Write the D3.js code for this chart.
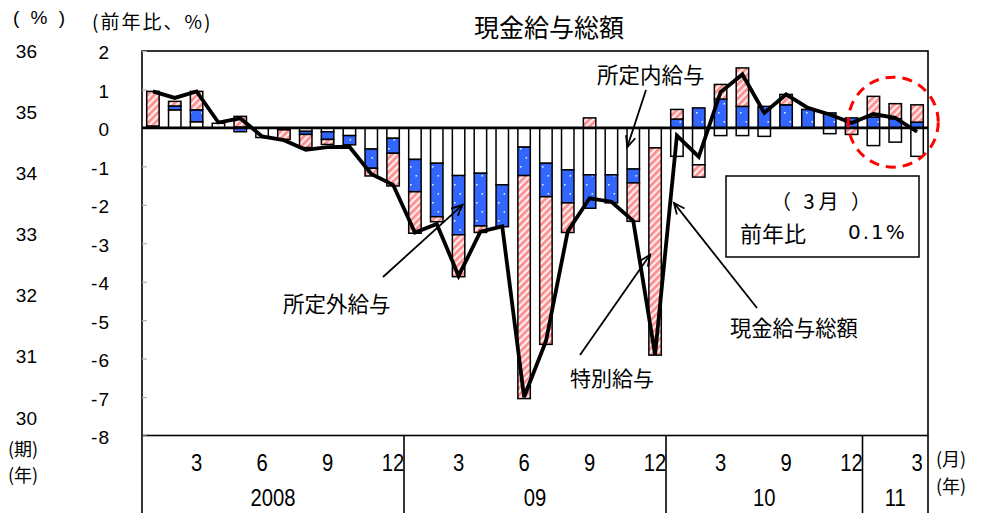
<!DOCTYPE html>
<html>
<head>
<meta charset="utf-8">
<script src="https://cdn.jsdelivr.net/npm/d3@7"></script>
<style>
  body { margin: 0; background: #fff; }
  text { fill: #000; }
</style>
</head>
<body>
<svg id="chart" width="994" height="513"></svg>
<script>
// ---- data (前年比, %) ----
// monthly bars: Jan 2008 .. Mar 2011 (2010 shown with 9 periods)
const periods = d3.range(36);
const scheduled = [0.05, 0.47, 0.16, 0.12, 0.02, -0.25, -0.05, -0.09, -0.10, -0.20, -0.55, -0.27,
                   -0.82, -0.92, -1.24, -1.18, -1.48, -0.50, -0.92, -1.09, -1.22, -1.22, -1.07, -0.52,
                   -0.74, -0.96, -0.20, -0.20, -0.22, 0.00, 0.00, -0.15, 0.00,
                   -0.46, -0.37, -0.74];
const overtime  = [0.00, 0.10, 0.31, 0.00, -0.10, 0.00, 0.00, -0.08, -0.20, -0.24, -0.50, -0.39,
                   -0.84, -1.39, -1.54, -1.37, -1.09, -0.74, -0.87, -0.86, -0.87, -0.73, -0.36, 0.00,
                   0.23, 0.52, 0.75, 0.56, 0.56, 0.60, 0.48, 0.39, 0.26,
                   0.28, 0.24, 0.15];
const special   = [0.90, 0.12, 0.48, 0.00, 0.28, 0.00, -0.25, -0.34, -0.13, 0.00, -0.20, -0.85,
                   -1.08, -0.13, -1.09, -0.17, 0.00, -5.80, -3.84, -0.77, 0.26, 0.00, -1.00, -5.39,
                   0.25, -0.32, 0.38, 1.00, 0.00, 0.27, 0.00, 0.00, -0.17,
                   0.54, 0.39, 0.45];
const totalPay  = [0.95, 0.78, 0.95, 0.14, 0.25, -0.22, -0.32, -0.57, -0.50, -0.49, -1.20, -1.48,
                   -2.72, -2.50, -3.85, -2.70, -2.56, -7.00, -5.55, -2.69, -1.83, -1.92, -2.42, -5.90,
                   -0.20, -0.75, 0.93, 1.39, 0.39, 0.87, 0.52, 0.35, 0.13,
                   0.36, 0.26, -0.10];
const tickLabels = ["", "", "3", "", "", "6", "", "", "9", "", "", "12",
                    "", "", "3", "", "", "6", "", "", "9", "", "", "12",
                    "", "", "3", "", "", "9", "", "", "12",
                    "", "", "3"];
const yearLabels = ["2008", "09", "10", "11"];
const yearCounts = [12, 12, 9, 3];
const yTicks = [2, 1, 0, -1, -2, -3, -4, -5, -6, -7, -8];
const levelTicks = [36, 35, 34, 33, 32, 31, 30];
const latestLabel = "0.1%";

// ---- layout ----
const svg = d3.select("#chart");
const plotL = 142, plotR = 928, plotT = 51, plotB = 435.5;
const numFont = "'Liberation Sans', Arial, sans-serif";
const jpFont = "'Noto Sans CJK JP', 'Noto Sans', sans-serif";
const plain = d => String(d).replace("\u2212", "-");

const x = d3.scaleBand().domain(periods).range([plotL, plotR]).paddingInner(0.43).paddingOuter(0.215);
const y = d3.scaleLinear().domain([-8, 2]).range([plotB, plotT]);
const level = d3.scaleLinear().domain([30, 36]).range([417.5, 50.5]);
const cx = i => x(i) + x.bandwidth() / 2;

// ---- fill patterns ----
const defs = svg.append("defs");
const hatch = defs.append("pattern").attr("id", "hatch").attr("patternUnits", "userSpaceOnUse")
  .attr("width", 5).attr("height", 5).attr("patternTransform", "rotate(45)");
hatch.append("rect").attr("width", 5).attr("height", 5).attr("fill", "#fff0f0");
hatch.append("rect").attr("width", 2.8).attr("height", 5).attr("fill", "#ff8e8e");

const dots = defs.append("pattern").attr("id", "dots").attr("patternUnits", "userSpaceOnUse")
  .attr("width", 11).attr("height", 18);
dots.append("rect").attr("width", 11).attr("height", 18).attr("fill", "#3366ff");
dots.append("rect").attr("x", 3).attr("y", 4).attr("width", 1.6).attr("height", 1.6).attr("fill", "#dfe8ff");
dots.append("rect").attr("x", 8.5).attr("y", 13).attr("width", 1.6).attr("height", 1.6).attr("fill", "#dfe8ff");

// ---- frame and axes ----
svg.append("rect").attr("x", plotL).attr("y", plotT).attr("width", plotR - plotL).attr("height", plotB - plotT)
  .attr("fill", "#fff").attr("stroke", "#000").attr("stroke-width", 1.6);

const yAxis = svg.append("g").attr("transform", `translate(${plotL},0)`)
  .call(d3.axisLeft(y).tickValues(yTicks).tickSizeInner(-5).tickSizeOuter(0).tickPadding(32)
    .tickFormat(plain));
yAxis.select(".domain").remove();
yAxis.selectAll(".tick line").attr("stroke", "#b0b0b0").attr("stroke-width", 1.2);
yAxis.selectAll(".tick text").attr("font-family", numFont).attr("font-size", 19).attr("dy", "0.42em")
  .attr("letter-spacing", "1px");

const lvAxis = svg.append("g").attr("transform", "translate(37,0)")
  .call(d3.axisLeft(level).tickValues(levelTicks).tickSize(0).tickPadding(0).tickFormat(plain));
lvAxis.select(".domain").remove();
lvAxis.selectAll(".tick text").attr("font-family", numFont).attr("font-size", 19).attr("dy", "0.35em");

// ---- stacked bars (diverging) ----
const rows = periods.map(i => ({ i, scheduled: scheduled[i], overtime: overtime[i], special: special[i] }));
const series = d3.stack().keys(["scheduled", "overtime", "special"]).offset(d3.stackOffsetDiverging)(rows);
const fills = { scheduled: "#fff", overtime: "url(#dots)", special: "url(#hatch)" };

svg.append("g").selectAll("g").data(series).join("g")
  .attr("fill", s => fills[s.key])
  .selectAll("rect").data(s => s.filter(d => d[1] !== d[0])).join("rect")
  .attr("x", d => x(d.data.i))
  .attr("width", x.bandwidth())
  .attr("y", d => y(Math.max(d[0], d[1])))
  .attr("height", d => Math.abs(y(d[0]) - y(d[1])))
  .attr("stroke", "#000").attr("stroke-width", 1.5);

// zero line
svg.append("line").attr("x1", plotL).attr("x2", plotR).attr("y1", y(0)).attr("y2", y(0))
  .attr("stroke", "#000").attr("stroke-width", 2.6);

// total cash earnings line
svg.append("path").datum(periods)
  .attr("d", d3.line().x(i => cx(i)).y(i => y(totalPay[i])))
  .attr("fill", "none").attr("stroke", "#000").attr("stroke-width", 3.8).attr("stroke-linejoin", "miter");

// ---- period table under the plot ----
const bounds = [0];
yearCounts.forEach((n, k) => bounds.push(bounds[k] + n));
const edge = k => k >= periods.length ? plotR : x(k) - x.step() * x.paddingInner() / 2;
svg.append("g").selectAll("line").data(bounds).join("line")
  .attr("x1", k => edge(k)).attr("x2", k => edge(k)).attr("y1", plotB).attr("y2", 513)
  .attr("stroke", "#000").attr("stroke-width", 1.6);

svg.append("g").selectAll("text").data(periods.filter(i => tickLabels[i] !== "")).join("text")
  .attr("transform", i => `translate(${cx(i)},471) scale(0.88,1)`)
  .attr("text-anchor", "middle").attr("font-family", numFont).attr("font-size", 23)
  .text(i => tickLabels[i]);

svg.append("g").selectAll("text").data(yearLabels).join("text")
  .attr("transform", (d, k) => `translate(${(edge(bounds[k]) + edge(bounds[k + 1])) / 2},506) scale(0.88,1)`)
  .attr("text-anchor", "middle").attr("font-family", numFont).attr("font-size", 23)
  .text(d => d);

// ---- text ----
const label = (t, px, py, size, anchor = "start", font = jpFont) =>
  svg.append("text").attr("x", px).attr("y", py).attr("font-size", size).attr("font-family", font)
    .attr("text-anchor", anchor).attr("dominant-baseline", "central").text(t);

label("( % )", 13, 17, 19, "start", numFont).attr("letter-spacing", "3px");
label("(前年比、%)", 92, 20, 19).attr("letter-spacing", "2px");
label("現金給与総額", 549, 26, 25, "middle");
label("(期)", 8, 448, 18);
label("(年)", 8, 474, 18);
label("(月)", 936, 458, 18);
label("(年)", 936, 485, 18);

label("所定内給与", 597, 73, 21.5);
label("所定外給与", 283, 302, 21.5);
label("特別給与", 570, 377, 21);
label("現金給与総額", 730, 326, 21.3);

// annotation arrows: tail in pixels, tip on the chart
function arrow(x1, y1, x2, y2) {
  const g = svg.append("g").attr("stroke", "#000").attr("stroke-width", 1.8).attr("fill", "none");
  g.append("line").attr("x1", x1).attr("y1", y1).attr("x2", x2).attr("y2", y2);
  const a = Math.atan2(y1 - y2, x1 - x2), len = 12, spread = 0.42;
  g.append("path").attr("d",
    `M${x2 + len * Math.cos(a - spread)},${y2 + len * Math.sin(a - spread)}L${x2},${y2}` +
    `L${x2 + len * Math.cos(a + spread)},${y2 + len * Math.sin(a + spread)}`);
}
arrow(646, 90, cx(22) - 6, y(-0.5));
arrow(383, 277, cx(14) + 4, y(-2.0));
arrow(580, 355, cx(23) - 5, y(-3.3));
arrow(757, 308, cx(24) - 3, y(-1.95));

// red dashed ring around the latest months
svg.append("ellipse").attr("cx", (cx(33) + cx(35)) / 2 - 2).attr("cy", y(0.15))
  .attr("rx", 45).attr("ry", 45)
  .attr("fill", "none").attr("stroke", "#ff0000").attr("stroke-width", 3).attr("stroke-dasharray", "10,7");

// latest-month box
svg.append("rect").attr("x", 726).attr("y", 176).attr("width", 193).attr("height", 81)
  .attr("fill", "#fff").attr("stroke", "#000").attr("stroke-width", 1.5);
label("（ 3月 ）", 823, 200, 20, "middle").attr("letter-spacing", "4px");
label("前年比", 740, 232, 22);
label(latestLabel, 848, 232, 20, "start", "'DejaVu Sans', sans-serif").attr("letter-spacing", "2px");
</script>
</body>
</html>
